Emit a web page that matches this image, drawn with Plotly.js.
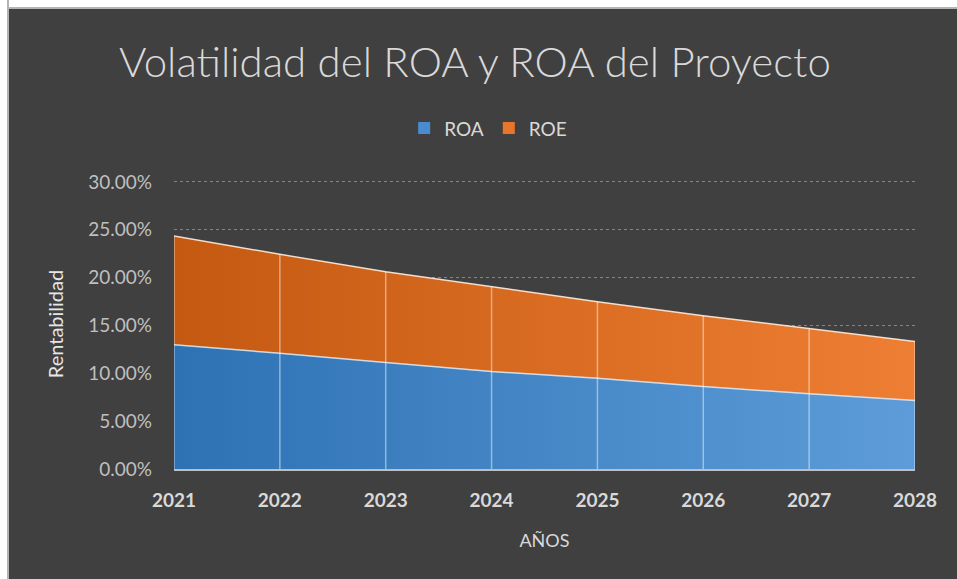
<!DOCTYPE html>
<html>
<head>
<meta charset="utf-8">
<script src="https://cdn.plot.ly/plotly-3.0.1.min.js"></script>
<style>
  html, body { margin: 0; padding: 0; background: #404040; overflow: hidden; }
  ::-webkit-scrollbar { display: none; width: 0; height: 0; }
  #topband { position: absolute; left: 0; top: 0; width: 100%; height: 7px; background: #ffffff; border-bottom: 2px solid #b4b4b4; }
  #leftband { position: absolute; left: 0; top: 0; width: 7px; height: 100%; background: #ffffff; border-right: 2px solid #b4b4b4; }
  #chart { position: absolute; left: 9px; top: 9px; width: 948px; height: 570px; }
</style>
</head>
<body>
<div id="chart"></div>
<div id="topband"></div>
<div id="leftband"></div>
<script>
// Data (percent values)
const years = [2021, 2022, 2023, 2024, 2025, 2026, 2027, 2028];
const roa = [12.97, 12.10, 11.12, 10.18, 9.49, 8.62, 7.85, 7.16];
const roe = [11.37, 10.33, 9.49, 8.87, 7.99, 7.40, 6.78, 6.15];
const yTicks = [0, 5, 10, 15, 20, 25, 30];

const totals = years.map((_, i) => roa[i] + roe[i]);
const dropX = [], dropY = [];
years.forEach((yr, i) => { dropX.push(yr, yr, null); dropY.push(0, totals[i], null); });

const traces = [
  {
    x: years, y: roa, name: 'ROA', type: 'scatter', mode: 'lines', stackgroup: 'one', showlegend: false,
    line: { color: 'rgba(225,238,250,0.85)', width: 1.5 },
    fillcolor: '#4a8bcb',
    fillgradient: { type: 'horizontal', colorscale: [[0, '#2e72b4'], [1, '#5d9cd8']] }
  },
  {
    x: years, y: roe, name: 'ROE', type: 'scatter', mode: 'lines', stackgroup: 'one', showlegend: false,
    line: { color: 'rgba(252,236,222,0.9)', width: 1.5 },
    fillcolor: '#dc6e24',
    fillgradient: { type: 'horizontal', colorscale: [[0, '#c45911'], [1, '#ee7e33']] }
  },
  {
    x: dropX, y: dropY, type: 'scatter', mode: 'lines', showlegend: false, hoverinfo: 'skip',
    line: { color: 'rgba(255,255,255,0.45)', width: 1.5 }
  },
  // legend keys (zero-height bars, only for the square legend symbols)
  { x: [years[0]], y: [0], type: 'bar', name: 'ROA', marker: { color: '#4a8bd0' }, hoverinfo: 'skip' },
  { x: [years[0]], y: [0], type: 'bar', name: 'ROE', marker: { color: '#e5762c' }, hoverinfo: 'skip' }
];

const layout = {
  width: 948, height: 570,
  paper_bgcolor: '#404040', plot_bgcolor: '#404040',
  margin: { l: 165, r: 42, t: 169.8, b: 109.7 },
  font: { family: 'Lato, "Open Sans", sans-serif', color: '#d9d9d9' },
  title: {
    text: 'Volatilidad del ROA y ROA del Proyecto',
    font: { family: 'Lato, "Open Sans", sans-serif', size: 42, color: '#d9d9d9', weight: 300 },
    x: 0.4915, xanchor: 'center', y: 0.907, yanchor: 'middle'
  },
  showlegend: true,
  legend: {
    orientation: 'h', x: 0.424, xanchor: 'center', y: 1.175, yanchor: 'middle',
    font: { size: 19, color: '#d9d9d9' }, bgcolor: 'rgba(0,0,0,0)',
    traceorder: 'normal', itemwidth: 30
  },
  xaxis: {
    range: [2021, 2028], tickvals: years, ticktext: years.map(String),
    showgrid: false, zeroline: false,
    showline: true, linecolor: '#bfbfbf', linewidth: 2,
    ticks: '', ticklabelstandoff: 13,
    tickfont: { size: 19, color: '#d9d9d9', weight: 'bold' },
    title: { text: 'AÑOS', font: { size: 18, color: '#d9d9d9' }, standoff: 25 }
  },
  yaxis: {
    range: [0, 30.3], tickvals: yTicks, ticktext: yTicks.map(v => v.toFixed(2) + '%'),
    showgrid: true, gridcolor: '#858585', griddash: 'dot', gridwidth: 1,
    zeroline: false, showline: false, ticks: '', ticklabelstandoff: 21,
    tickfont: { size: 19, color: '#bfbfbf' },
    title: { text: 'Rentabilidad', font: { size: 20, color: '#e6e6e6' }, standoff: 19 }
  },
  bargap: 0.5
};

Plotly.newPlot('chart', traces, layout, { displayModeBar: false, staticPlot: true });
</script>
</body>
</html>
